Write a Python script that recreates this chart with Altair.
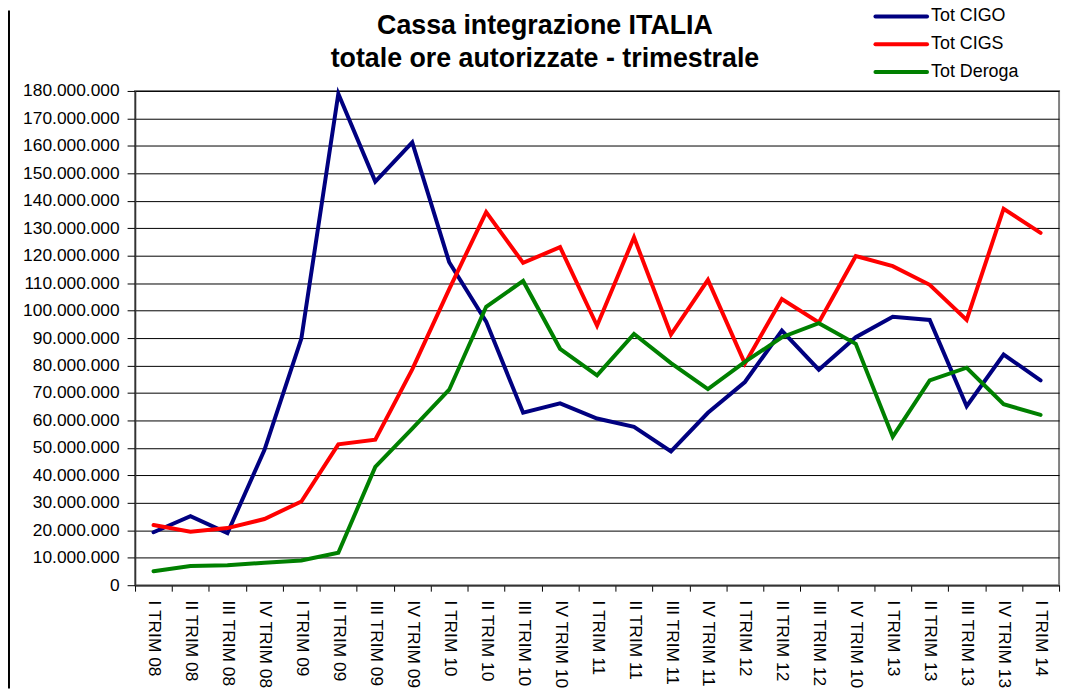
import altair as alt
import pandas as pd

title_lines = ["Cassa integrazione ITALIA", "totale ore autorizzate - trimestrale"]

labels = ["I TRIM 08", "II TRIM 08", "III TRIM 08", "IV TRIM 08",
          "I TRIM 09", "II TRIM 09", "III TRIM 09", "IV TRIM 09",
          "I TRIM 10", "II TRIM 10", "III TRIM 10", "IV TRIM 10",
          "I TRIM 11", "II TRIM 11", "III TRIM 11", "IV TRIM 11",
          "I TRIM 12", "II TRIM 12", "III TRIM 12", "IV TRIM 10",
          "I TRIM 13", "II TRIM 13", "III TRIM 13", "IV TRIM 13",
          "I TRIM 14"]

tot_cigo = [19.3, 25.1, 19.0, 49.2, 89.8, 179.0, 147.0, 161.3, 117.6, 96.0,
            62.8, 66.2, 60.7, 57.7, 48.7, 62.8, 74.0, 92.7, 78.5, 90.3,
            97.8, 96.6, 65.2, 84.0, 74.6]
tot_cigs = [21.9, 19.5, 20.8, 24.1, 30.5, 51.3, 53.0, 78.6, 107.8, 135.9,
            117.4, 123.1, 94.5, 126.7, 91.3, 111.2, 80.7, 104.2, 95.7, 119.9,
            116.2, 109.4, 96.6, 137.1, 128.3]
tot_deroga = [5.1, 7.0, 7.3, 8.2, 9.0, 11.8, 43.1, 57.0, 71.2, 101.4,
              110.8, 86.1, 76.4, 91.5, 80.9, 71.4, 81.3, 90.3, 95.4, 87.9,
              54.1, 74.6, 79.2, 65.9, 62.0]

series_names = ["Tot CIGO", "Tot CIGS", "Tot Deroga"]
series_colors = ["#000080", "#FF0000", "#008000"]
y_ticks = [i * 10_000_000 for i in range(19)]

rows = []
for name, vals in zip(series_names, [tot_cigo, tot_cigs, tot_deroga]):
    for i, v in enumerate(vals):
        rows.append({"idx": i, "serie": name, "value": v * 1_000_000})
df = pd.DataFrame(rows)

FONT = "Liberation Sans"
label_expr = "[" + ",".join("'" + l + "'" for l in labels) + "][datum.value]"

lines = alt.Chart(df).mark_line(strokeWidth=4, strokeCap="round").encode(
    x=alt.X("idx:O",
            scale=alt.Scale(type="band", paddingInner=0, paddingOuter=0),
            axis=alt.Axis(title=None, labelExpr=label_expr, labelAngle=90,
                          labelAlign="left", labelBaseline="middle",
                          labelPadding=9, tickSize=6, tickBand="extent",
                          tickColor="#000", domainColor="#333", domainWidth=1.5,
                          labelFontSize=17.5, labelFont=FONT, labelColor="#000",
                          grid=False)),
    y=alt.Y("value:Q",
            scale=alt.Scale(domain=[0, 180_000_000], nice=False),
            axis=alt.Axis(title=None, values=y_ticks,
                          labelExpr="replace(format(datum.value, ','), regexp(',', 'g'), '.')",
                          tickSize=8, labelPadding=8, tickColor="#000",
                          domainColor="#333", domainWidth=1.5,
                          gridColor="#000", gridWidth=1,
                          labelFontSize=17.5, labelFont=FONT, labelColor="#000")),
    color=alt.Color("serie:N",
                    scale=alt.Scale(domain=series_names, range=series_colors),
                    legend=None),
    order=alt.Order("idx:O"),
)

# Legend drawn as marks (line sample + label) for each series
legend_layers = []
for k, (name, col) in enumerate(zip(series_names, series_colors)):
    yy = -75 + 28 * k
    one = pd.DataFrame({"serie": [name]})
    legend_layers.append(
        alt.Chart(one).mark_rule(color=col, strokeWidth=4, strokeCap="round").encode(
            x=alt.value(746), x2=alt.value(798), y=alt.value(yy))
    )
    legend_layers.append(
        alt.Chart(one).mark_text(font=FONT, fontSize=18, color="#000",
                                 align="left", baseline="middle").encode(
            text="serie:N", x=alt.value(802), y=alt.value(yy))
    )

frame = alt.Chart(pd.DataFrame({"a": [0]})).mark_rule(color="#000", strokeWidth=2).encode(
    x=alt.value(-127), y=alt.value(-81), y2=alt.value(602)
)

title_marks = [
    alt.Chart(pd.DataFrame({"t": [txt]})).mark_text(
        font=FONT, fontSize=27, fontWeight="bold", color="#000",
        align="center", baseline="alphabetic"
    ).encode(text="t:N", x=alt.value(413), y=alt.value(yy))
    for txt, yy in zip(title_lines, [-57, -24])
]

chart = alt.layer(lines, frame, *legend_layers, *title_marks).properties(
    width=931, height=498,
    autosize=alt.AutoSizeParams(type="none"),
    padding={"left": 128, "top": 81, "right": 8, "bottom": 102},
).configure_view(stroke="#808080", strokeWidth=2)

chart.save("out.html", embed_options={"renderer": "svg", "actions": False})
